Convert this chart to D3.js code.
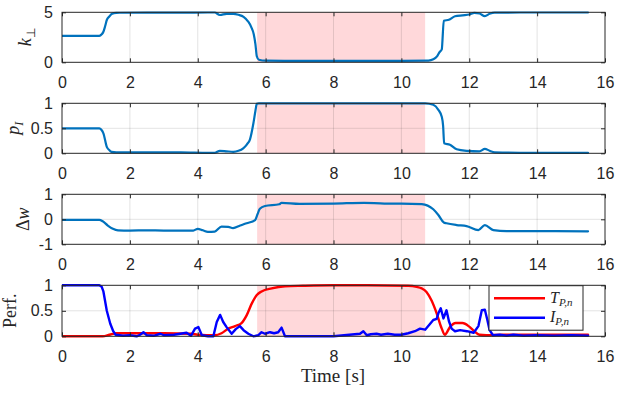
<!DOCTYPE html>
<html><head><meta charset="utf-8">
<script src="https://cdn.jsdelivr.net/npm/d3@7"></script>
<style>body{margin:0;background:#fff}svg{display:block;background:#fff}</style>
</head><body><svg id="c" width="628" height="396"></svg>
<script>
// ---------------- data ----------------
const xTicks = [0, 2, 4, 6, 8, 10, 12, 14, 16];
const shadeRange = [5.75, 10.7];

const kPerpT = [0, 1.1, 1.17, 1.22, 1.27, 1.32, 1.4, 1.46, 1.6, 2.5, 3.5, 4.3, 4.5, 4.65, 4.85, 5.05, 5.2, 5.35, 5.48, 5.58, 5.65, 5.7, 5.74, 5.8, 6.0, 7, 8, 9, 10, 10.8, 10.94, 11.05, 11.12, 11.19, 11.25, 11.4, 11.58, 11.8, 12.0, 12.15, 12.3, 12.46, 12.6, 12.75, 13.5, 14.5, 15.5];
const kPerpV = [2.65, 2.65, 2.8, 3.06, 3.6, 4.23, 4.6, 4.83, 4.95, 4.97, 4.97, 4.98, 4.98, 4.73, 4.85, 4.85, 4.75, 4.55, 4.1, 3.5, 2.8, 1.8, 0.6, 0.25, 0.16, 0.15, 0.15, 0.15, 0.15, 0.17, 0.3, 0.6, 1.0, 1.3, 4.15, 4.25, 4.6, 4.7, 4.78, 4.95, 4.88, 4.62, 4.85, 4.97, 4.98, 4.98, 4.98];

const pIT = [0, 1.1, 1.16, 1.22, 1.32, 1.4, 1.46, 1.6, 2.5, 3.5, 4.3, 4.5, 4.65, 4.85, 5.05, 5.2, 5.34, 5.45, 5.54, 5.64, 5.7, 5.74, 5.8, 6.0, 10.7, 10.94, 11.09, 11.19, 11.23, 11.26, 11.43, 11.63, 11.92, 12.3, 12.46, 12.6, 12.75, 13.5, 15.5];
const pIV = [0.5, 0.5, 0.47, 0.4, 0.13, 0.06, 0.03, 0.02, 0.02, 0.02, 0.01, 0.01, 0.05, 0.04, 0.03, 0.05, 0.1, 0.18, 0.28, 0.6, 0.85, 0.99, 1.0, 1.0, 1.0, 0.97, 0.87, 0.73, 0.55, 0.2, 0.17, 0.08, 0.05, 0.04, 0.09, 0.05, 0.02, 0.01, 0.01];

const dwT = [0, 1.1, 1.2, 1.35, 1.5, 1.65, 2.0, 2.5, 3.0, 3.5, 3.87, 4.0, 4.15, 4.3, 4.5, 4.7, 4.9, 5.04, 5.25, 5.44, 5.69, 5.76, 5.83, 5.98, 6.4, 6.47, 7.0, 8.0, 8.9, 9.5, 10.0, 10.6, 10.94, 11.09, 11.25, 11.33, 11.63, 11.92, 12.27, 12.46, 12.71, 13.1, 14, 15.5];
const dwV = [-0.02, -0.02, -0.08, -0.25, -0.38, -0.44, -0.45, -0.44, -0.45, -0.45, -0.45, -0.38, -0.44, -0.5, -0.49, -0.29, -0.3, -0.35, -0.25, -0.16, -0.03, 0.2, 0.42, 0.53, 0.6, 0.66, 0.62, 0.63, 0.66, 0.63, 0.63, 0.61, 0.4, 0.17, -0.13, -0.16, -0.23, -0.27, -0.43, -0.23, -0.43, -0.47, -0.47, -0.48];

const tpnT = [0, 1.2, 1.4, 1.6, 2.0, 3.0, 3.8, 4.0, 4.5, 4.7, 4.9, 5.1, 5.29, 5.44, 5.59, 5.74, 5.88, 6.18, 6.57, 7.1, 8, 9, 10.2, 10.45, 10.6, 10.74, 10.89, 11.04, 11.19, 11.28, 11.43, 11.6, 11.8, 12.0, 12.15, 12.3, 12.5, 13, 15.5];
const tpnV = [0, 0, 0.03, 0.06, 0.06, 0.06, 0.05, 0.03, 0.02, 0.06, 0.15, 0.2, 0.26, 0.41, 0.64, 0.81, 0.88, 0.94, 0.98, 0.99, 1.0, 1.0, 0.99, 0.97, 0.94, 0.87, 0.7, 0.45, 0.15, 0.03, 0.18, 0.26, 0.26, 0.19, 0.1, 0.03, 0.02, 0.03, 0.03];

const ipnT = [0, 1.1, 1.17, 1.22, 1.32, 1.42, 1.51, 1.58, 1.8, 2.0, 2.2, 2.3, 2.4, 2.5, 2.7, 2.9, 3.0, 3.3, 3.67, 3.8, 3.92, 4.02, 4.12, 4.3, 4.46, 4.56, 4.66, 4.75, 4.85, 5.0, 5.12, 5.24, 5.35, 5.49, 5.64, 5.78, 5.88, 5.98, 6.13, 6.25, 6.37, 6.47, 6.57, 7, 8, 8.78, 8.88, 8.98, 9.1, 9.27, 9.4, 9.6, 9.8, 10.0, 10.2, 10.4, 10.55, 10.7, 10.94, 11.04, 11.09, 11.16, 11.24, 11.33, 11.4, 11.48, 11.58, 11.73, 11.93, 12.13, 12.27, 12.37, 12.46, 12.53, 12.6, 12.7, 12.9, 13.1, 13.3, 13.6, 14.0, 14.5, 15.0, 15.5];
const ipnV = [1, 1, 0.97, 0.88, 0.5, 0.25, 0.1, 0.03, 0.01, 0.02, 0.0, 0.03, 0.08, 0.02, 0.01, 0.05, 0.02, 0.03, 0.07, 0.01, 0.15, 0.18, 0.02, 0.0, 0.0, 0.28, 0.42, 0.28, 0.18, 0.05, 0.14, 0.2, 0.12, 0.05, 0.0, 0.02, 0.08, 0.05, 0.08, 0.06, 0.08, 0.17, 0.0, 0.0, 0.0, 0.05, 0.1, 0.02, 0.04, 0.05, 0.03, 0.05, 0.03, 0.03, 0.06, 0.1, 0.15, 0.13, 0.32, 0.34, 0.45, 0.55, 0.35, 0.51, 0.3, 0.15, 0.1, 0.12, 0.1, 0.07, 0.2, 0.51, 0.52, 0.33, 0.12, 0.02, 0.03, 0.01, 0.03, 0.01, 0.02, 0.01, 0.02, 0.01];

const yTicks1 = [0, 5], yTicks2 = [0, 0.5, 1], yTicks3 = [-1, 0, 1], yTicks4 = [0, 0.5, 1];
const legendLabels = [["T", "P,n"], ["I", "P,n"]];

// ---------------- layout ----------------
const svg = d3.select("#c");
const X0 = 62, X1 = 605;
const x = d3.scaleLinear().domain([0, 16]).range([X0, X1]);
const AX = "#262626";
const sans = "'Liberation Sans', Arial, sans-serif";
const serif = "'Liberation Serif', 'Times New Roman', serif";

const panels = [
  {top: 12.3, bottom: 62.3, dom: [0, 5], ticks: yTicks1, lab: 31, series: [{t: kPerpT, v: kPerpV, c: "#0072BD", w: 2.2, curve: d3.curveMonotoneX}]},
  {top: 103.3, bottom: 153.3, dom: [0, 1], ticks: yTicks2, lab: 19, series: [{t: pIT, v: pIV, c: "#0072BD", w: 2.2, curve: d3.curveMonotoneX}]},
  {top: 194.3, bottom: 244.3, dom: [-1, 1], ticks: yTicks3, lab: 29, series: [{t: dwT, v: dwV, c: "#0072BD", w: 2.2, curve: d3.curveMonotoneX}]},
  {top: 285.3, bottom: 336.3, dom: [0, 1], ticks: yTicks4, lab: 16, series: [{t: tpnT, v: tpnV, c: "#ff0000", w: 2.4, curve: d3.curveMonotoneX}, {t: ipnT, v: ipnV, c: "#0000ff", w: 2.4, curve: d3.curveLinear}]}
];

panels.forEach((p, i) => {
  const y = d3.scaleLinear().domain(p.dom).range([p.bottom, p.top]);
  p.y = y;
  const g = svg.append("g");
  g.append("rect").attr("x", x(shadeRange[0])).attr("y", p.top)
    .attr("width", x(shadeRange[1]) - x(shadeRange[0])).attr("height", p.bottom - p.top)
    .attr("fill", "#ffd8da");
  g.append("g").selectAll("line").data(xTicks.slice(1, -1)).join("line")
    .attr("x1", d => x(d)).attr("x2", d => x(d)).attr("y1", p.top).attr("y2", p.bottom)
    .attr("stroke", AX).attr("stroke-opacity", 0.13).attr("stroke-width", 1);
  g.append("g").selectAll("line").data(p.ticks.filter(d => d !== p.dom[0] && d !== p.dom[1])).join("line")
    .attr("x1", X0).attr("x2", X1).attr("y1", d => y(d)).attr("y2", d => y(d))
    .attr("stroke", AX).attr("stroke-opacity", 0.13).attr("stroke-width", 1);
  const clipId = "clip" + i;
  svg.append("clipPath").attr("id", clipId).append("rect")
    .attr("x", X0).attr("y", p.top - 2).attr("width", X1 - X0).attr("height", p.bottom - p.top + 4);
  p.series.forEach(s => {
    const pts = s.t.map((t, k) => [t, s.v[k]]);
    g.append("path").datum(pts)
      .attr("d", d3.line().x(d => x(d[0])).y(d => y(d[1])).curve(s.curve))
      .attr("fill", "none").attr("stroke", s.c).attr("stroke-width", s.w)
      .attr("stroke-linejoin", "round").attr("stroke-linecap", "round")
      .attr("clip-path", `url(#${clipId})`);
  });
  const styleAxis = sel => {
    sel.select(".domain").remove();
    sel.selectAll(".tick line").attr("stroke", AX).attr("stroke-width", 1);
    sel.selectAll("text").attr("fill", AX).style("font-family", sans).style("font-size", "16px");
  };
  g.append("g").attr("transform", `translate(0,${p.bottom})`)
    .call(d3.axisBottom(x).tickValues(xTicks).tickFormat(d3.format("d")).tickSizeInner(-4).tickSizeOuter(0).tickPadding(14))
    .call(styleAxis);
  g.append("g").attr("transform", `translate(0,${p.top})`)
    .call(d3.axisTop(x).tickValues(xTicks).tickFormat("").tickSizeInner(-4).tickSizeOuter(0))
    .call(styleAxis);
  g.append("g").attr("transform", `translate(${X0},0)`)
    .call(d3.axisLeft(y).tickValues(p.ticks).tickFormat(d => String(d)).tickSizeInner(-4).tickSizeOuter(0).tickPadding(9))
    .call(styleAxis);
  g.append("g").attr("transform", `translate(${X1},0)`)
    .call(d3.axisRight(y).tickValues(p.ticks).tickFormat("").tickSizeInner(-4).tickSizeOuter(0))
    .call(styleAxis);
  g.append("rect").attr("x", X0).attr("y", p.top).attr("width", X1 - X0).attr("height", p.bottom - p.top)
    .attr("fill", "none").attr("stroke", AX).attr("stroke-width", 1);
  const yl = svg.append("text")
    .attr("transform", `translate(${p.lab},${(p.top + p.bottom) / 2}) rotate(-90)`)
    .attr("text-anchor", "middle").attr("fill", AX)
    .style("font-family", serif).style("font-size", "18px");
  if (i === 0) {
    yl.append("tspan").style("font-style", "italic").text("k");
    yl.append("tspan").attr("dy", 4).style("font-size", "12px").text("\u22A5");
  } else if (i === 1) {
    yl.append("tspan").style("font-style", "italic").text("p");
    yl.append("tspan").attr("dy", 4).style("font-size", "12px").style("font-style", "italic").text("I");
  } else if (i === 2) {
    yl.append("tspan").text("\u0394");
    yl.append("tspan").style("font-style", "italic").text("w");
  } else {
    yl.text("Perf.");
  }
});

svg.append("text").attr("x", 333).attr("y", 382).attr("text-anchor", "middle")
  .attr("fill", AX).style("font-family", serif).style("font-size", "19px").text("Time [s]");

const lg = svg.append("g");
lg.append("rect").attr("x", 489).attr("y", 285.7).attr("width", 94).attr("height", 44.5)
  .attr("fill", "#fff").attr("stroke", AX).attr("stroke-width", 1);
const legColors = [panels[3].series[0].c, panels[3].series[1].c];
const legY = [298.3, 317.7];
legendLabels.forEach((lab, k) => {
  lg.append("line").attr("x1", 494).attr("x2", 545).attr("y1", legY[k]).attr("y2", legY[k])
    .attr("stroke", legColors[k]).attr("stroke-width", 2.4);
  const t = lg.append("text").attr("x", 550).attr("y", legY[k] + 4.5).attr("fill", AX)
    .style("font-family", serif).style("font-size", "16px").style("font-style", "italic");
  t.append("tspan").text(lab[0]);
  t.append("tspan").attr("dy", 3).style("font-size", "11px").text(lab[1]);
});
</script>
</body></html>
